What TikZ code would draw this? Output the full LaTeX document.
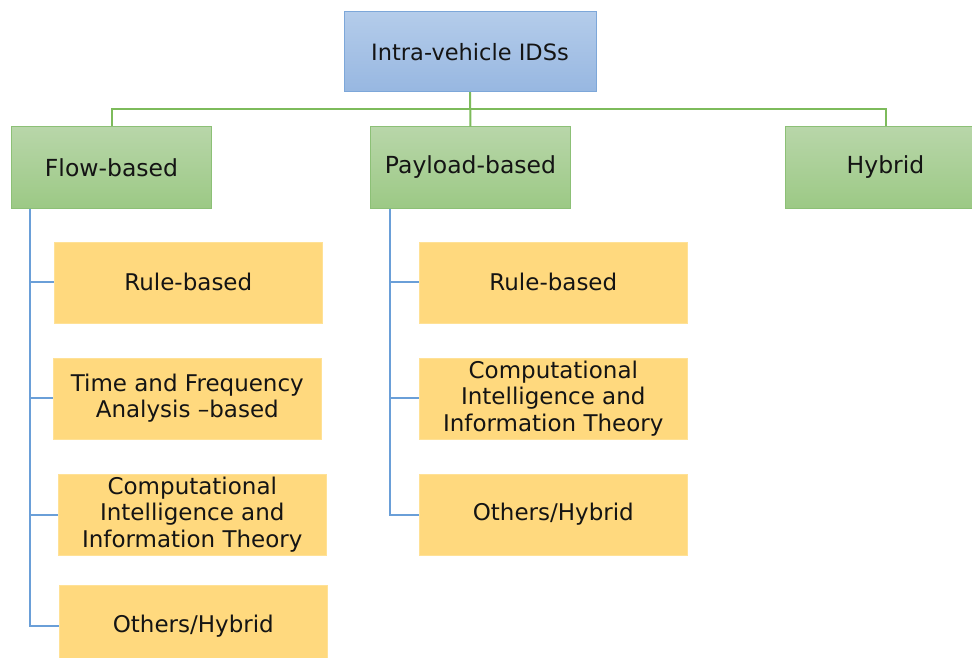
\documentclass[tikz,border=0pt]{standalone}
\usepackage{fontspec}
\setmainfont{DejaVu Sans}
\usetikzlibrary{positioning}

\definecolor{roottop}{HTML}{B4CCEA}
\definecolor{rootbot}{HTML}{97B7E1}
\definecolor{rootline}{HTML}{7DA7D9}
\definecolor{grptop}{HTML}{B8D6A9}
\definecolor{grpbot}{HTML}{9CC985}
\definecolor{grpline}{HTML}{8CC076}
\definecolor{grpwire}{HTML}{7DBB5B}
\definecolor{leaffill}{HTML}{FFD97E}
\definecolor{leafline}{HTML}{FFE196}
\definecolor{leafwire}{HTML}{6A9FD8}

\tikzset{
  rootbox/.style={draw=rootline, line width=1pt, top color=roottop, bottom color=rootbot,
    minimum width=252pt, minimum height=80pt, text=black!92, font=\fontsize{22.5}{26}\selectfont},
  groupbox/.style={draw=grpline, line width=1pt, top color=grptop, bottom color=grpbot,
    minimum width=200pt, minimum height=81pt, text=black!92, font=\fontsize{23.5}{27}\selectfont},
  leafbox/.style={draw=leafline, line width=0.6pt, fill=leaffill, align=center, inner ysep=0pt,
    minimum width=268pt, minimum height=81pt, text=black!92, font=\fontsize{23}{26.5}\selectfont},
  gwire/.style={draw=grpwire, line width=2pt},
  bwire/.style={draw=leafwire, line width=2pt}
}

\begin{document}
\begin{tikzpicture}[x=1pt,y=1pt]
\useasboundingbox (0,0) rectangle (972,-658);
\clip (0,0) rectangle (972,-658);

% top and the three groups
\node [rootbox] (ids) at (470,-52) {Intra-vehicle IDSs};
\node [groupbox] (payload) at (470.5,-167.5) {Payload-based};
\node [groupbox, left=158pt of payload] (flow) {Flow-based};
\node [groupbox, right=214pt of payload] (hybrid) {Hybrid};

% flow-based branch
\node [leafbox, below right=33pt and 43pt of flow.south west, anchor=north west] (frule) {Rule-based};
\node [leafbox, below=34.5pt of frule, xshift=-1pt] (ftime) {Time and Frequency\\Analysis –based};
\node [leafbox, below=34.5pt of ftime, xshift=5pt] (fci) {Computational\\Intelligence and\\Information Theory};
\node [leafbox, below=30pt of fci, xshift=1pt] (fother) {Others/Hybrid};

% payload-based branch
\node [leafbox, below right=33pt and 49pt of payload.south west, anchor=north west] (prule) {Rule-based};
\node [leafbox, below=34.5pt of prule] (pci) {Computational\\Intelligence and\\Information Theory};
\node [leafbox, below=34.5pt of pci] (pother) {Others/Hybrid};

% green bus
\draw [gwire] (ids.south) -- (payload.north);
\draw [gwire] (ids.south) -- ++(0,-17) -| (flow.north);
\draw [gwire] (ids.south) -- ++(0,-17) -| (hybrid.north);

% blue trunks
\coordinate (ftrunk) at ([xshift=19pt]flow.south west);
\coordinate (ptrunk) at ([xshift=20pt]payload.south west);
\foreach \n in {frule,ftime,fci,fother}
  \draw [bwire] (ftrunk) |- (\n.west);
\foreach \n in {prule,pci,pother}
  \draw [bwire] (ptrunk) |- (\n.west);
\end{tikzpicture}
\end{document}
